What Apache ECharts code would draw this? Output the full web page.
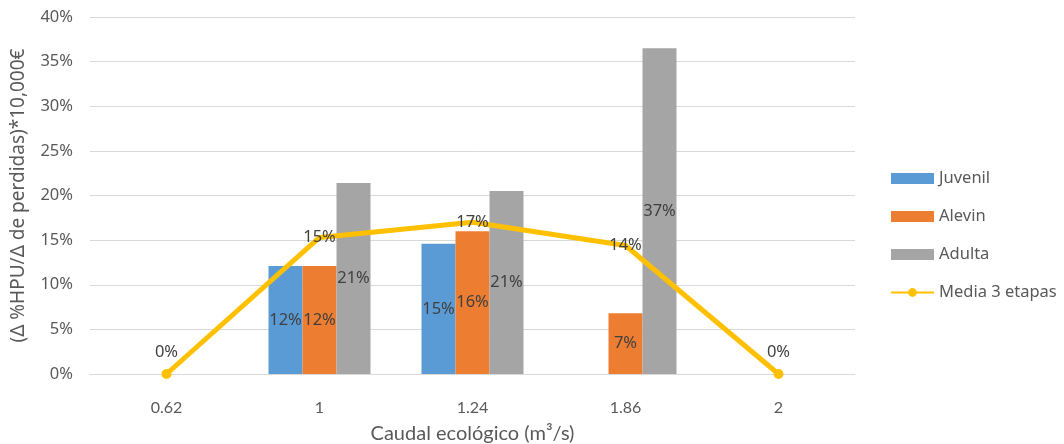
<!DOCTYPE html>
<html>
<head>
<meta charset="utf-8">
<script src="https://cdn.jsdelivr.net/npm/echarts@6/dist/echarts.min.js"></script>
<style>
  html, body { margin: 0; padding: 0; background: #fff; }
  #chart { width: 1064px; height: 444px; }
</style>
</head>
<body>
<div id="chart"></div>
<script>
const categories = ['0.62', '1', '1.24', '1.86', '2']
const juvenil = [null, 12.1, 14.6, null, null]
const alevin = [null, 12.1, 16.0, 6.8, null]
const adulta = [null, 21.4, 20.5, 36.5, null]
const media = [0, 15.3, 17.0, 14.4, 0]

const pct = (p) => Math.round(p.value) + '%'
const barLabel = {
  show: true,
  position: 'inside',
  color: '#404040',
  fontFamily: 'Noto Sans',
  fontSize: 16.5,
  formatter: pct
}

const chart = echarts.init(document.getElementById('chart'))

chart.setOption({
  animation: false,
  grid: { left: 90, right: 209, top: 17, bottom: 70, outerBoundsMode: 'none' },
  legend: {
    orient: 'vertical',
    left: 885,
    top: 165,
    itemWidth: 43,
    itemHeight: 11,
    itemGap: 21,
    textStyle: { color: '#595959', fontFamily: 'Noto Sans', fontSize: 16.5 },
    data: [
      { name: 'Juvenil', icon: 'rect' },
      { name: 'Alevin', icon: 'rect' },
      { name: 'Adulta', icon: 'rect' },
      { name: 'Media 3 etapas' }
    ]
  },
  xAxis: {
    type: 'category',
    data: categories,
    name: 'Caudal ecológico (m³/s)',
    nameLocation: 'middle',
    nameGap: 50,
    nameTextStyle: { color: '#595959', fontFamily: 'Lato', fontSize: 20 },
    axisLine: { lineStyle: { color: '#d9d9d9', width: 1 } },
    axisTick: { show: false },
    axisLabel: { color: '#595959', fontFamily: 'Lato', fontSize: 16, margin: 26 }
  },
  yAxis: {
    type: 'value',
    min: 0,
    max: 40,
    interval: 5,
    name: '(Δ %HPU/Δ de perdidas)*10,000€',
    nameLocation: 'middle',
    nameGap: 62,
    nameTextStyle: { color: '#595959', fontFamily: 'Noto Sans', fontSize: 19 },
    axisLine: { show: false },
    axisTick: { show: false },
    axisLabel: { color: '#595959', fontFamily: 'Noto Sans', fontSize: 16.5, margin: 17, formatter: '{value}%' },
    splitLine: { lineStyle: { color: '#d9d9d9', width: 1 } }
  },
  series: [
    {
      name: 'Juvenil', type: 'bar', data: juvenil,
      barWidth: 34, barGap: '0%',
      itemStyle: { color: '#5b9bd5' },
      label: barLabel
    },
    {
      name: 'Alevin', type: 'bar', data: alevin,
      barWidth: 34, barGap: '0%',
      itemStyle: { color: '#ed7d31' },
      label: barLabel
    },
    {
      name: 'Adulta', type: 'bar', data: adulta,
      barWidth: 34, barGap: '0%',
      itemStyle: { color: '#a5a5a5' },
      label: barLabel
    },
    {
      name: 'Media 3 etapas', type: 'line',
      data: media.map((v) => v === 0
        ? { value: v, symbolSize: 10, label: { position: 'top', distance: 8 } }
        : { value: v, symbolSize: 0.1, label: { position: 'inside' } }),
      symbol: 'circle',
      symbolSize: 10,
      showAllSymbol: true,
      lineStyle: { color: '#ffc000', width: 5 },
      itemStyle: { color: '#ffc000' },
      label: {
        show: true,
        color: '#404040',
        fontFamily: 'Noto Sans',
        fontSize: 16.5,
        formatter: pct
      },
      z: 3
    }
  ]
})
</script>
</body>
</html>
